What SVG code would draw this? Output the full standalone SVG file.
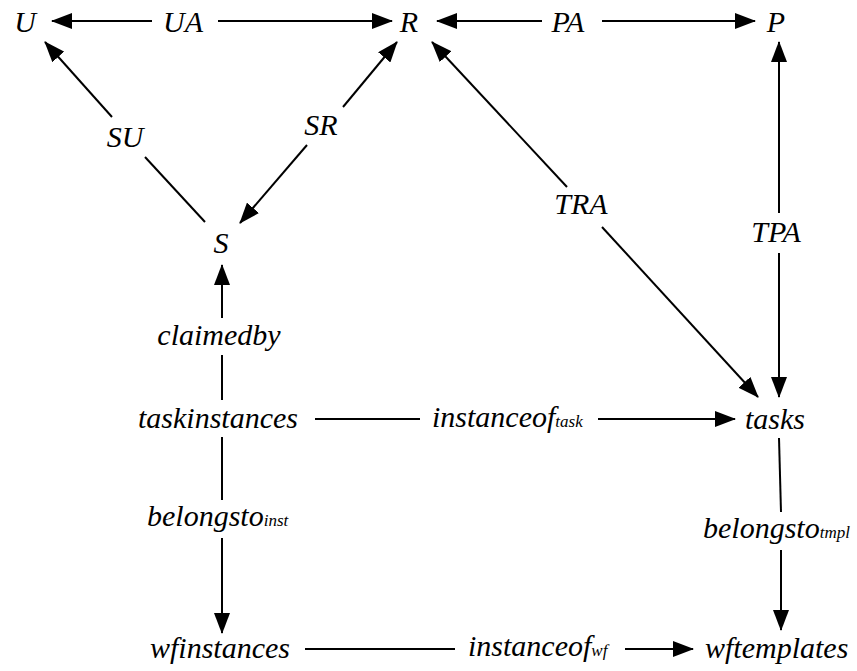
<svg xmlns="http://www.w3.org/2000/svg" width="857" height="671" viewBox="0 0 857 671">
  <rect width="857" height="671" fill="#fff"/>
  <defs>
    <marker id="head" markerUnits="userSpaceOnUse" markerWidth="22" markerHeight="16" refX="20" refY="8" orient="auto">
      <path d="M0,0 L21,8 L0,16 z" fill="#000"/>
    </marker>
  </defs>

  <g id="connectors" stroke="#000" stroke-width="2" fill="none">
    <!-- UA: U <-> R -->
    <line marker-end="url(#head)" x1="152" y1="21" x2="52" y2="21"/>
    <line marker-end="url(#head)" x1="218" y1="21" x2="392" y2="21"/>
    <!-- PA: R <-> P -->
    <line marker-end="url(#head)" x1="542" y1="21" x2="437" y2="21"/>
    <line marker-end="url(#head)" x1="602" y1="21" x2="755" y2="21"/>
    <!-- SU: S -> U -->
    <line marker-end="url(#head)" x1="112" y1="117" x2="45" y2="42"/>
    <line x1="145" y1="157" x2="205" y2="222"/>
    <!-- SR: S <-> R -->
    <line marker-end="url(#head)" x1="343" y1="107" x2="397" y2="42"/>
    <line marker-end="url(#head)" x1="307" y1="145" x2="240" y2="223"/>
    <!-- TRA: tasks <-> R -->
    <line marker-end="url(#head)" x1="567" y1="187" x2="432" y2="42"/>
    <line marker-end="url(#head)" x1="602" y1="227" x2="758" y2="397"/>
    <!-- TPA: tasks <-> P -->
    <line marker-end="url(#head)" x1="779" y1="213" x2="779" y2="42"/>
    <line marker-end="url(#head)" x1="779" y1="253" x2="779" y2="397"/>
    <!-- claimedby: taskinstances -> S -->
    <line marker-end="url(#head)" x1="222" y1="318" x2="222" y2="265"/>
    <line x1="222" y1="355" x2="222" y2="400"/>
    <!-- instanceof_task: taskinstances -> tasks -->
    <line x1="315" y1="419" x2="420" y2="419"/>
    <line marker-end="url(#head)" x1="598" y1="419" x2="735" y2="419"/>
    <!-- belongsto_inst: taskinstances -> wfinstances -->
    <line x1="222" y1="437" x2="222" y2="500"/>
    <line marker-end="url(#head)" x1="222" y1="538" x2="222" y2="633"/>
    <!-- belongsto_tmpl: tasks -> wftemplates -->
    <line x1="779" y1="438" x2="781" y2="512"/>
    <line marker-end="url(#head)" x1="781" y1="550" x2="781" y2="630"/>
    <!-- instanceof_wf: wfinstances -> wftemplates -->
    <line x1="305" y1="649" x2="455" y2="649"/>
    <line marker-end="url(#head)" x1="625" y1="649" x2="693" y2="649"/>
  </g>

  <!-- edge labels (Times-metric italic; subscripts as smaller tspans) -->
  <g id="edge-labels">
    <text x="183" y="32" text-anchor="middle" style="font-family: Liberation Serif, serif !important; font-style: italic !important; font-size: 30px">UA</text>
    <text x="568" y="32" text-anchor="middle" style="font-family: Liberation Serif, serif !important; font-style: italic !important; font-size: 30px">PA</text>
    <text x="125" y="147" text-anchor="middle" style="font-family: Liberation Serif, serif !important; font-style: italic !important; font-size: 30px">SU</text>
    <text x="321" y="135" text-anchor="middle" style="font-family: Liberation Serif, serif !important; font-style: italic !important; font-size: 30px">SR</text>
    <text x="581" y="214" text-anchor="middle" style="font-family: Liberation Serif, serif !important; font-style: italic !important; font-size: 30px">TRA</text>
    <text x="776" y="242" text-anchor="middle" style="font-family: Liberation Serif, serif !important; font-style: italic !important; font-size: 30px">TPA</text>
    <text x="219" y="345" text-anchor="middle" style="font-family: Liberation Serif, serif !important; font-style: italic !important; font-size: 30px">claimedby</text>
    <text x="432" y="427" style="font-family: Liberation Serif, serif !important; font-style: italic !important; font-size: 30px">instanceof<tspan style="font-size: 17px">task</tspan></text>
    <text x="147" y="526" style="font-family: Liberation Serif, serif !important; font-style: italic !important; font-size: 30px">belongsto<tspan style="font-size: 17px">inst</tspan></text>
    <text x="703" y="538" style="font-family: Liberation Serif, serif !important; font-style: italic !important; font-size: 30px">belongsto<tspan style="font-size: 17px">tmpl</tspan></text>
    <text x="468" y="656" style="font-family: Liberation Serif, serif !important; font-style: italic !important; font-size: 30px">instanceof<tspan style="font-size: 17px">wf</tspan></text>
  </g>

  <g id="U"><text x="25" y="32" text-anchor="middle" style="font-family: Liberation Serif, serif !important; font-style: italic !important; font-size: 30px">U</text></g>
  <g id="R"><text x="409" y="32" text-anchor="middle" style="font-family: Liberation Serif, serif !important; font-style: italic !important; font-size: 30px">R</text></g>
  <g id="P"><text x="776" y="32" text-anchor="middle" style="font-family: Liberation Serif, serif !important; font-style: italic !important; font-size: 30px">P</text></g>
  <g id="S"><text x="221" y="253" text-anchor="middle" style="font-family: Liberation Serif, serif !important; font-style: italic !important; font-size: 30px">S</text></g>
  <g id="taskinstances"><text x="218" y="428" text-anchor="middle" style="font-family: Liberation Serif, serif !important; font-style: italic !important; font-size: 30px">taskinstances</text></g>
  <g id="tasks"><text x="745" y="429" style="font-family: Liberation Serif, serif !important; font-style: italic !important; font-size: 30px">tasks</text></g>
  <g id="wfinstances"><text x="290" y="658" text-anchor="end" style="font-family: Liberation Serif, serif !important; font-style: italic !important; font-size: 30px">wfinstances</text></g>
  <g id="wftemplates"><text x="705" y="658" style="font-family: Liberation Serif, serif !important; font-style: italic !important; font-size: 30px">wftemplates</text></g>
</svg>
